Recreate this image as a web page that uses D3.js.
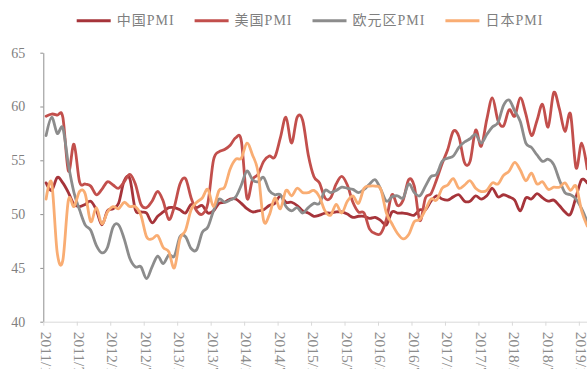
<!DOCTYPE html>
<html>
<head>
<meta charset="utf-8">
<script src="https://cdn.jsdelivr.net/npm/d3@7/dist/d3.min.js"></script>
<style>
  html, body { margin: 0; padding: 0; background: #ffffff; }
  svg { display: block; }
  text { font-family: "Liberation Serif", "Times New Roman", "Noto Sans CJK SC", serif; }
</style>
</head>
<body>
<svg id="chart" width="587" height="369"></svg>
<script>
// Monthly manufacturing PMI, 2011/1 – 2019/2
const startYear = 2011, monthCount = 98;
const months = d3.range(monthCount).map(i => `${startYear + Math.floor(i / 12)}/${(i % 12) + 1}`);
const tickLabels = ["2011/1","2011/7","2012/1","2012/7","2013/1","2013/7","2014/1","2014/7",
  "2015/1","2015/7","2016/1","2016/7","2017/1","2017/7","2018/1","2018/7","2019/1"];
const yTicks = [40, 45, 50, 55, 60, 65];

const chinaPMI = [
  52.9, 52.2, 53.4, 52.9, 52.0, 50.9, 50.7, 50.9, 51.2, 50.4, 49.0, 50.3,
  50.5, 51.0, 53.1, 53.3, 50.4, 50.2, 50.1, 49.2, 49.8, 50.2, 50.6, 50.6,
  50.4, 50.1, 50.9, 50.6, 50.8, 50.1, 50.3, 51.0, 51.1, 51.4, 51.4, 51.0,
  50.5, 50.2, 50.3, 50.4, 50.8, 51.0, 51.7, 51.1, 51.1, 50.8, 50.3, 50.1,
  49.8, 49.9, 50.1, 50.1, 50.2, 50.2, 50.0, 49.7, 49.8, 49.8, 49.6, 49.7,
  49.4, 49.0, 50.2, 50.1, 50.1, 50.0, 49.9, 50.4, 50.4, 51.2, 51.7, 51.4,
  51.3, 51.6, 51.8, 51.2, 51.2, 51.7, 51.4, 51.7, 52.4, 51.6, 51.8, 51.6,
  51.3, 50.3, 51.5, 51.4, 51.9, 51.5, 51.2, 51.3, 50.8, 50.2, 50.0, 51.6,
  53.2, 52.9
];
const usPMI = [
  59.1, 59.3, 59.2, 59.0, 54.0, 56.5, 53.0, 52.8, 52.6, 51.8, 52.3, 53.0,
  52.7, 52.4, 53.0, 53.7, 52.8, 50.9, 50.6, 51.2, 52.1, 51.2, 49.5, 50.7,
  52.8, 53.3, 51.5, 50.3, 50.0, 51.0, 55.0, 55.8, 56.0, 56.4, 57.1, 56.8,
  51.5, 53.2, 53.7, 54.9, 55.4, 55.3, 57.1, 59.0, 56.6, 59.0, 58.7, 55.5,
  53.5, 52.9, 51.5, 51.5, 52.8, 53.5, 52.7, 51.1, 50.2, 50.1, 48.6, 48.2,
  48.2, 49.5, 51.8, 50.8, 51.3, 53.2, 52.6, 49.4, 51.5, 51.9, 53.2, 54.7,
  56.0, 57.7, 57.2, 54.8, 54.9, 57.8, 56.3, 58.8, 60.8, 58.7, 58.2, 59.7,
  59.1, 60.8, 59.3, 57.3, 58.7, 60.2, 58.1, 61.3, 59.8, 57.7, 59.3, 54.3,
  56.6, 54.2
];
const euroPMI = [
  57.3, 59.0, 57.5, 58.0, 54.6, 52.0, 50.4, 49.0, 48.5, 47.1, 46.4, 46.9,
  48.8, 49.0, 47.7, 45.9, 45.1, 45.1, 44.0, 45.1, 46.1, 45.4, 46.2, 46.1,
  47.9, 47.9, 46.8, 46.7, 48.3, 48.8, 50.3, 51.4, 51.1, 51.3, 51.6, 52.7,
  54.0, 53.2, 53.0, 53.4, 52.2, 51.8, 51.8, 50.7, 50.3, 50.6, 50.1, 50.6,
  51.0, 51.0, 52.2, 52.0, 52.2, 52.5, 52.4, 52.3, 52.0, 52.3, 52.8, 53.2,
  52.3, 51.2, 51.6, 51.7, 51.5, 52.8, 52.0, 51.7, 52.6, 53.5, 53.7, 54.9,
  55.2, 55.4, 56.2, 56.7, 57.0, 57.4, 56.6, 57.4, 58.1, 58.5, 60.1, 60.6,
  59.6, 58.6, 56.6, 56.2, 55.5, 54.9, 55.1, 54.6, 53.2, 52.0, 51.8, 51.4,
  50.5, 49.3
];
const japanPMI = [
  51.4, 52.9, 46.4, 45.7, 51.3, 50.7, 52.1, 51.9, 49.3, 50.6, 49.1, 50.2,
  50.7, 50.5, 51.1, 50.7, 50.7, 49.9, 47.9, 47.7, 48.0, 46.9, 46.5, 45.0,
  47.7, 48.5, 50.4, 51.1, 51.5, 52.3, 50.7, 52.2, 52.5, 54.2, 55.1, 55.2,
  56.6, 55.5, 53.9, 49.4, 49.9, 51.5, 50.5, 52.2, 51.7, 52.4, 52.0, 52.0,
  52.2, 51.6, 50.3, 49.9, 50.9, 50.1, 51.2, 51.7, 51.0, 52.4, 52.6, 52.6,
  52.3, 50.1, 49.1, 48.2, 47.7, 48.1, 49.3, 49.5, 50.4, 51.4, 51.3, 52.4,
  52.7, 53.3, 52.4, 52.7, 53.1, 52.4, 52.1, 52.2, 52.9, 52.8, 53.6, 54.0,
  54.8, 54.1, 53.1, 53.8, 52.8, 53.0, 52.3, 52.5, 52.5, 52.9, 52.2, 52.6,
  50.3, 48.9
];

const seriesNames = ["中国PMI", "美国PMI", "欧元区PMI", "日本PMI"];
const seriesValues = [chinaPMI, usPMI, euroPMI, japanPMI];
const seriesColors = ["#a6343a", "#c24f4c", "#8c8c8c", "#f9ad73"];

const svg = d3.select("#chart");
const plotLeft = 43.3, plotRight = 590, plotTop = 52.7, plotBottom = 321.7;

const x = d3.scaleLinear().domain([0, monthCount]).range([plotLeft, plotRight]);
const y = d3.scaleLinear().domain([40, 65]).range([plotBottom, plotTop]);

// y axis
const yAxis = svg.append("g").attr("transform", `translate(${plotLeft},0)`)
  .call(d3.axisLeft(y).tickValues(yTicks).tickSize(3).tickSizeOuter(0).tickPadding(15).tickFormat(d3.format("d")));
yAxis.select(".domain").attr("stroke", "#8f8f8f").attr("stroke-width", 1);
yAxis.selectAll(".tick line").attr("stroke", "#8f8f8f");
yAxis.selectAll(".tick text").attr("fill", "#808080").attr("font-size", 14)
  .attr("font-family", "Liberation Serif, serif");

// x axis: one tick every six months at month boundaries; vertical labels run off the bottom edge
const tickIdx = tickLabels.map(l => months.indexOf(l));
const xAxis = svg.append("g").attr("transform", `translate(0,${plotBottom})`)
  .call(d3.axisBottom(x).tickValues(tickIdx).tickSize(4).tickSizeOuter(0)
    .tickFormat((d, i) => tickLabels[i]));
xAxis.select(".domain").attr("stroke", "#d9d9d9");
xAxis.selectAll(".tick line").attr("stroke", "#d9d9d9");
xAxis.selectAll(".tick text")
  .attr("fill", "#8c8c8c").attr("font-size", 15.5).attr("font-family", "Liberation Serif, serif")
  .attr("text-anchor", "start").attr("dy", null).attr("y", 0)
  .attr("dominant-baseline", "central")
  .attr("transform", "translate(2.2,10) rotate(90)");

// series lines, smoothed through each monthly value
const line = d3.line()
  .x((d, i) => x(i + 0.5))
  .y(d => y(d))
  .curve(d3.curveCardinal.tension(0));

svg.append("defs").append("clipPath").attr("id", "plot")
  .append("rect").attr("x", plotLeft).attr("y", 0).attr("width", plotRight - plotLeft).attr("height", plotBottom);

const lines = svg.append("g").attr("clip-path", "url(#plot)");
seriesValues.forEach((vals, k) => {
  lines.append("path")
    .attr("d", line(vals))
    .attr("fill", "none")
    .attr("stroke", seriesColors[k])
    .attr("stroke-width", 2.8)
    .attr("stroke-linejoin", "round")
    .attr("stroke-linecap", "round");
});

// legend across the top
const legend = svg.append("g").attr("transform", "translate(76.7,20.7)");
let cx = 0;
seriesNames.forEach((name, k) => {
  const g = legend.append("g").attr("transform", `translate(${cx},0)`);
  g.append("line").attr("x1", 0).attr("x2", 34).attr("y1", 0).attr("y2", 0)
    .attr("stroke", seriesColors[k]).attr("stroke-width", 3);
  const t = g.append("text").attr("x", 40).attr("y", 0)
    .attr("dominant-baseline", "central")
    .attr("font-size", 14).attr("letter-spacing", 1)
    .attr("fill", "#7f7f7f")
    .text(name);
  cx += 40 + t.node().getComputedTextLength() + 20;
});
</script>
</body>
</html>
